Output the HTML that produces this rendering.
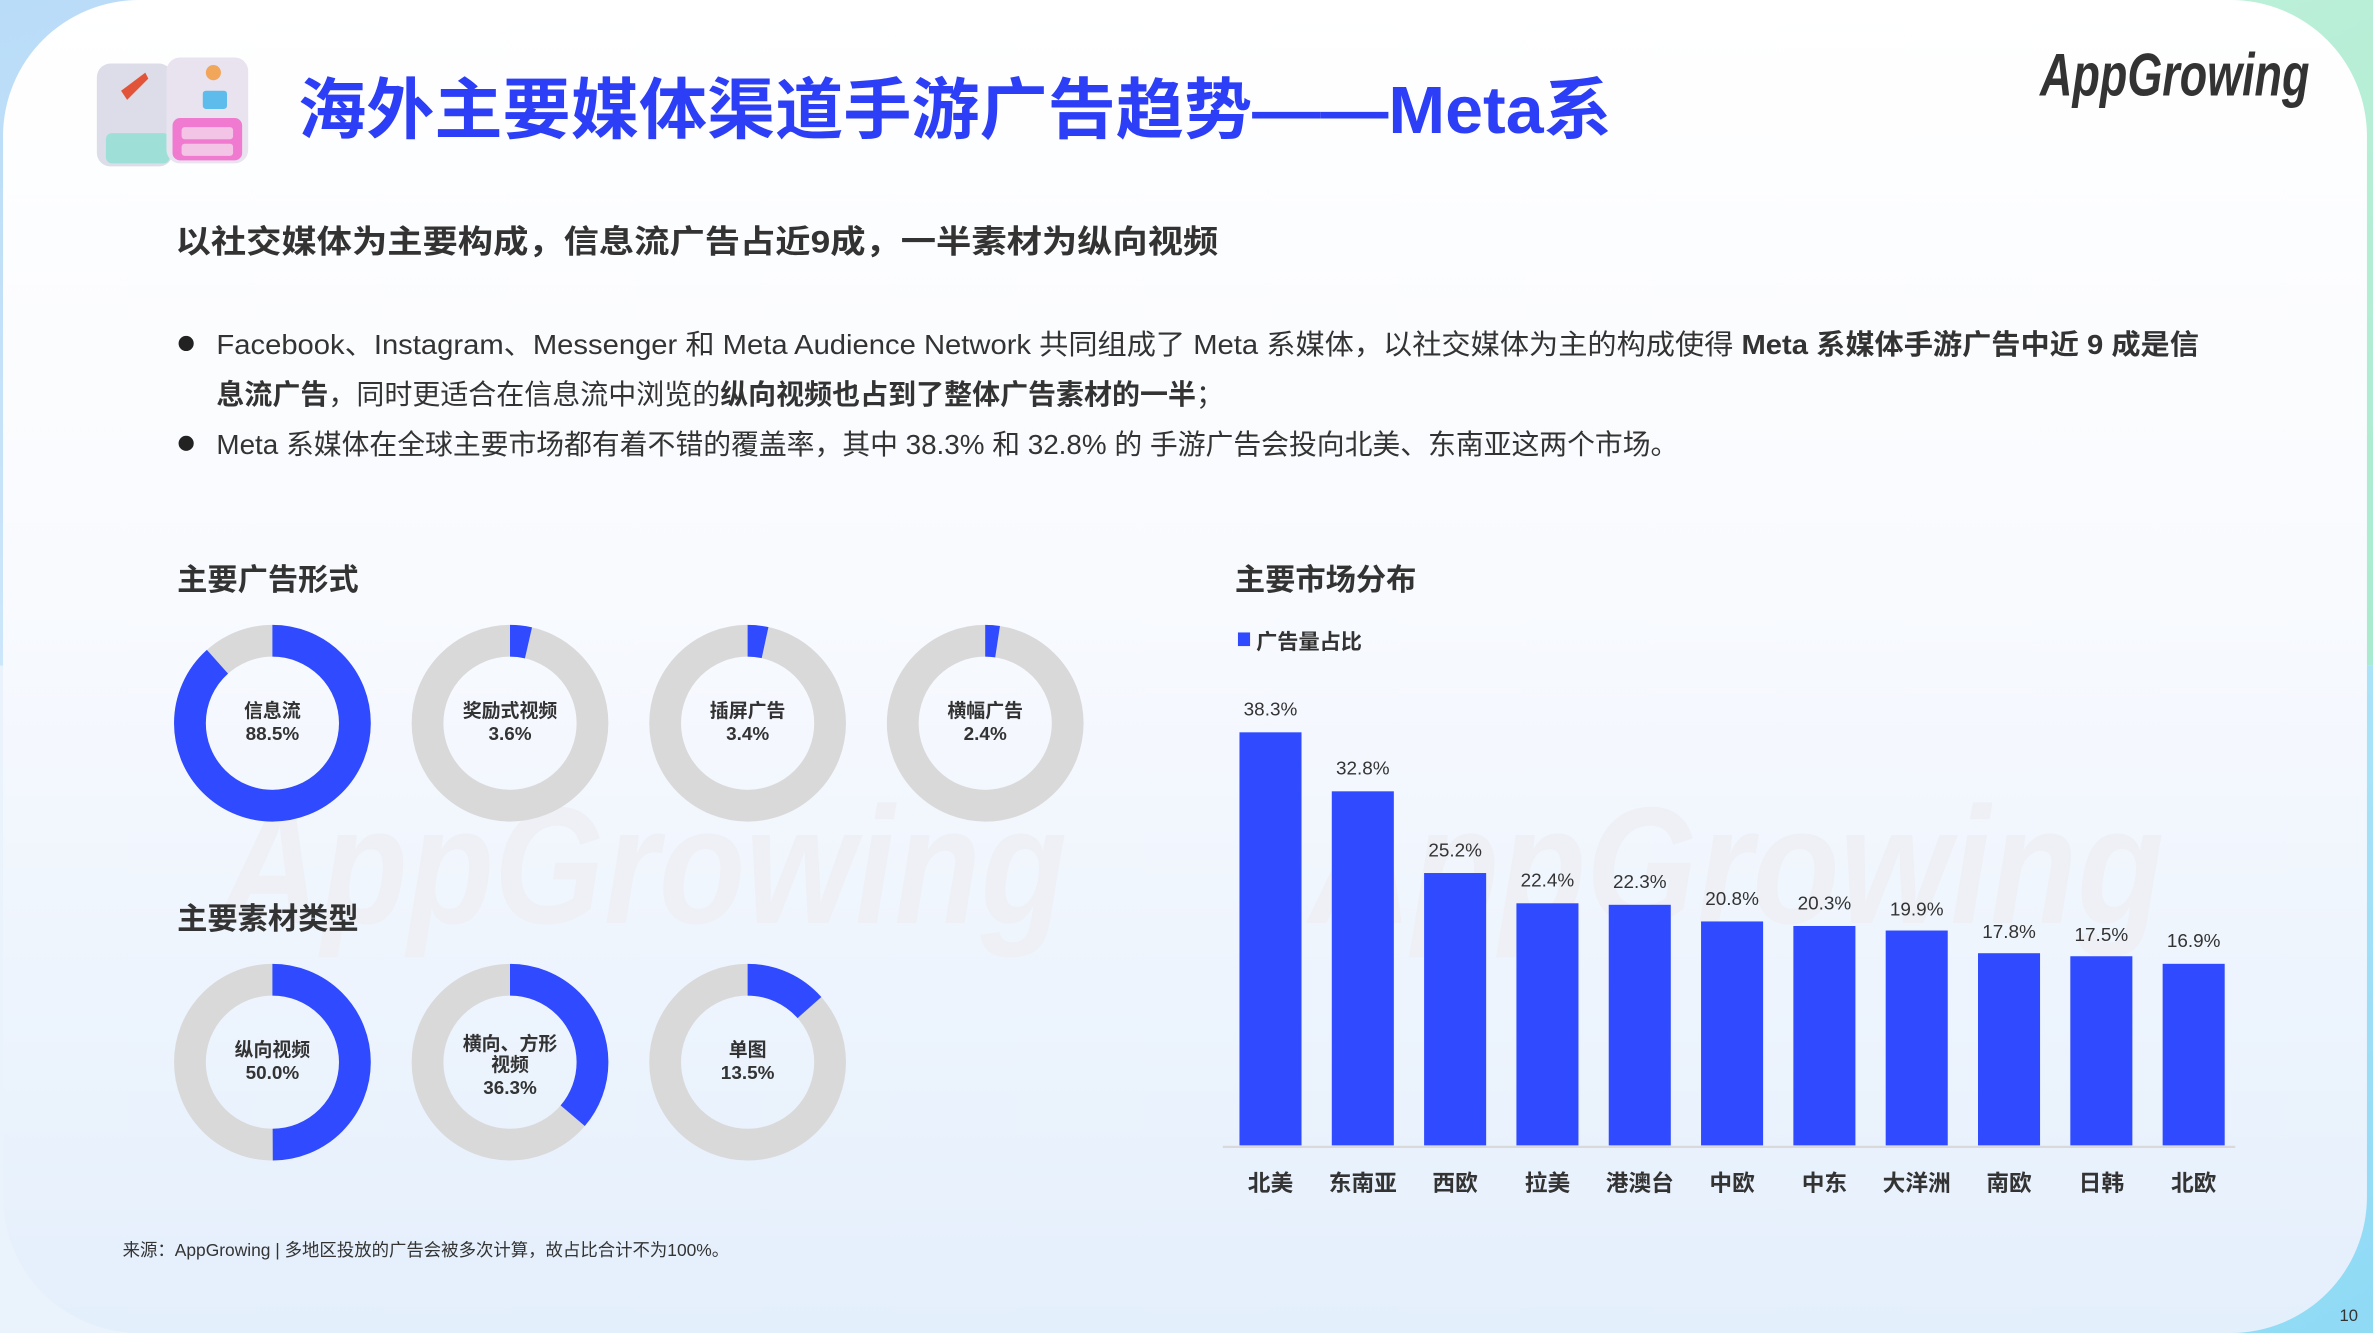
<!DOCTYPE html>
<html><head><meta charset="utf-8"><style>
html,body{margin:0;padding:0;width:2373px;height:1333px;overflow:hidden;background:#fff}
svg{display:block}
text{font-family:"Liberation Sans","Noto Sans CJK SC",sans-serif}
</style></head><body>
<svg width="2373" height="1333" viewBox="0 0 1568 881" preserveAspectRatio="none" xmlns="http://www.w3.org/2000/svg">
<defs>
<linearGradient id="bg" x1="0" y1="0" x2="0" y2="1">
<stop offset="0" stop-color="#ffffff"/><stop offset="0.45" stop-color="#f8fafe"/><stop offset="1" stop-color="#e4effc"/>
</linearGradient>
<linearGradient id="tl" x1="0" y1="0" x2="1" y2="1"><stop offset="0" stop-color="#b9dcf8"/><stop offset="1" stop-color="#e0effb"/></linearGradient>
<linearGradient id="tr" x1="0" y1="0" x2="1" y2="1"><stop offset="0" stop-color="#c9f2de"/><stop offset="1" stop-color="#a9ebd0"/></linearGradient>
<linearGradient id="br" x1="0" y1="0" x2="1" y2="1"><stop offset="0" stop-color="#c6ecfb"/><stop offset="1" stop-color="#8fdaf5"/></linearGradient>
</defs>
<rect x="0" y="0" width="1568" height="440" fill="url(#tl)"/>
<rect x="784" y="0" width="784" height="440" fill="url(#tr)"/>
<rect x="784" y="440" width="784" height="441" fill="url(#br)"/>
<rect x="0" y="440" width="784" height="441" fill="#eaf2fb"/>
<rect x="2" y="0" width="1562" height="881" rx="90" ry="90" fill="url(#bg)"/>

<!-- watermarks -->
<text x="145" y="610" font-size="110" font-style="italic" fill="#eef0f6" font-weight="bold" textLength="560" lengthAdjust="spacingAndGlyphs">AppGrowing</text>
<text x="865" y="610" font-size="110" font-style="italic" fill="#eef0f6" font-weight="bold" textLength="565" lengthAdjust="spacingAndGlyphs">AppGrowing</text>

<!-- icon -->
<g>
<rect x="64" y="42" width="50" height="68" rx="9" fill="#dcdde8"/>
<rect x="70" y="88" width="42" height="20" rx="4" fill="#9ee0d8"/>
<rect x="110" y="38" width="54" height="70" rx="9" fill="#e8e3ef"/>
<rect x="114" y="78" width="46" height="28" rx="5" fill="#f07ad0"/>
<rect x="120" y="84" width="34" height="8" rx="2" fill="#f4c4e6"/>
<rect x="120" y="95" width="34" height="8" rx="2" fill="#f4c4e6"/>
<circle cx="141" cy="48" r="5" fill="#f2a65a"/>
<rect x="134" y="60" width="16" height="12" rx="2" fill="#5ebcec"/>
<path d="M80 60 L96 48 L98 52 L84 66Z" fill="#e2543a"/>
</g>

<text x="197" y="88" font-size="44" font-weight="bold" fill="#2c3ef6" textLength="868" lengthAdjust="spacingAndGlyphs">海外主要媒体渠道手游广告趋势——Meta系</text>
<text x="1348" y="63" font-size="40" font-style="italic" font-weight="bold" fill="#333" textLength="178" lengthAdjust="spacingAndGlyphs">AppGrowing</text>

<text x="116" y="167" font-size="21" font-weight="bold" fill="#333" textLength="689" lengthAdjust="spacingAndGlyphs">以社交媒体为主要构成，信息流广告占近9成，一半素材为纵向视频</text>

<circle cx="123" cy="227" r="5" fill="#222"/>
<text x="143" y="234" font-size="18.5" fill="#333" textLength="1310" lengthAdjust="spacingAndGlyphs">Facebook、Instagram、Messenger 和 Meta Audience Network 共同组成了 Meta 系媒体，以社交媒体为主的构成使得 <tspan font-weight="bold">Meta 系媒体手游广告中近 9 成是信</tspan></text>
<text x="143" y="267" font-size="18.5" fill="#333"><tspan font-weight="bold">息流广告</tspan>，同时更适合在信息流中浏览的<tspan font-weight="bold">纵向视频也占到了整体广告素材的一半</tspan>；</text>
<circle cx="123" cy="293" r="5" fill="#222"/>
<text x="143" y="300" font-size="18.5" fill="#333" textLength="966" lengthAdjust="spacingAndGlyphs">Meta 系媒体在全球主要市场都有着不错的覆盖率，其中 38.3% 和 32.8% 的 手游广告会投向北美、东南亚这两个市场。</text>

<text x="117" y="390" font-size="20" font-weight="bold" fill="#333">主要广告形式</text>
<text x="117" y="614" font-size="20" font-weight="bold" fill="#333">主要素材类型</text>

<!-- donuts -->
<g fill="none" stroke-width="21">
<g transform="translate(180,478) rotate(-90)"><circle r="54.5" stroke="#d9d9d9"/><circle r="54.5" stroke="#2f4aff" pathLength="100" stroke-dasharray="88.5 100"/></g>
<g transform="translate(337,478) rotate(-90)"><circle r="54.5" stroke="#d9d9d9"/><circle r="54.5" stroke="#2f4aff" pathLength="100" stroke-dasharray="3.6 100"/></g>
<g transform="translate(494,478) rotate(-90)"><circle r="54.5" stroke="#d9d9d9"/><circle r="54.5" stroke="#2f4aff" pathLength="100" stroke-dasharray="3.4 100"/></g>
<g transform="translate(651,478) rotate(-90)"><circle r="54.5" stroke="#d9d9d9"/><circle r="54.5" stroke="#2f4aff" pathLength="100" stroke-dasharray="2.4 100"/></g>
<g transform="translate(180,702) rotate(-90)"><circle r="54.5" stroke="#d9d9d9"/><circle r="54.5" stroke="#2f4aff" pathLength="100" stroke-dasharray="50 100"/></g>
<g transform="translate(337,702) rotate(-90)"><circle r="54.5" stroke="#d9d9d9"/><circle r="54.5" stroke="#2f4aff" pathLength="100" stroke-dasharray="36.3 100"/></g>
<g transform="translate(494,702) rotate(-90)"><circle r="54.5" stroke="#d9d9d9"/><circle r="54.5" stroke="#2f4aff" pathLength="100" stroke-dasharray="13.5 100"/></g>
</g>
<g font-size="12.5" font-weight="bold" fill="#333" text-anchor="middle">
<text x="180" y="474">信息流</text><text x="180" y="489">88.5%</text>
<text x="337" y="474">奖励式视频</text><text x="337" y="489">3.6%</text>
<text x="494" y="474">插屏广告</text><text x="494" y="489">3.4%</text>
<text x="651" y="474">横幅广告</text><text x="651" y="489">2.4%</text>
<text x="180" y="698">纵向视频</text><text x="180" y="713">50.0%</text>
<text x="337" y="694">横向、方形</text><text x="337" y="708">视频</text><text x="337" y="723">36.3%</text>
<text x="494" y="698">单图</text><text x="494" y="713">13.5%</text>
</g>

<text x="81" y="830" font-size="11.5" fill="#333">来源：AppGrowing | 多地区投放的广告会被多次计算，故占比合计不为100%。</text>

<!-- bar chart -->
<text x="816" y="390" font-size="20" font-weight="bold" fill="#333">主要市场分布</text>
<rect x="818" y="418" width="8" height="9" fill="#2f4aff"/>
<text x="830" y="429" font-size="14" font-weight="bold" fill="#333">广告量占比</text>
<line x1="808" y1="758" x2="1477" y2="758" stroke="#d9d9d9" stroke-width="1.5"/>
<g fill="#2f4aff">
<rect x="819" y="484" width="41" height="273"/>
<rect x="880" y="523" width="41" height="234"/>
<rect x="941" y="577" width="41" height="180"/>
<rect x="1002" y="597" width="41" height="160"/>
<rect x="1063" y="598" width="41" height="159"/>
<rect x="1124" y="609" width="41" height="148"/>
<rect x="1185" y="612" width="41" height="145"/>
<rect x="1246" y="615" width="41" height="142"/>
<rect x="1307" y="630" width="41" height="127"/>
<rect x="1368" y="632" width="41" height="125"/>
<rect x="1429" y="637" width="41" height="120"/>
</g>
<g font-size="12.5" fill="#333" text-anchor="middle">
<text x="839.5" y="473">38.3%</text>
<text x="900.5" y="512">32.8%</text>
<text x="961.5" y="566">25.2%</text>
<text x="1022.5" y="586">22.4%</text>
<text x="1083.5" y="587">22.3%</text>
<text x="1144.5" y="598">20.8%</text>
<text x="1205.5" y="601">20.3%</text>
<text x="1266.5" y="605">19.9%</text>
<text x="1327.5" y="620">17.8%</text>
<text x="1388.5" y="622">17.5%</text>
<text x="1449.5" y="626">16.9%</text>
</g>
<g font-size="15" font-weight="bold" fill="#333" text-anchor="middle">
<text x="839.5" y="787">北美</text><text x="900.5" y="787">东南亚</text><text x="961.5" y="787">西欧</text>
<text x="1022.5" y="787">拉美</text><text x="1083.5" y="787">港澳台</text><text x="1144.5" y="787">中欧</text>
<text x="1205.5" y="787">中东</text><text x="1266.5" y="787">大洋洲</text><text x="1327.5" y="787">南欧</text>
<text x="1388.5" y="787">日韩</text><text x="1449.5" y="787">北欧</text>
</g>
<text x="1552" y="873" font-size="11" fill="#333" text-anchor="middle">10</text>
</svg>
</body></html>
